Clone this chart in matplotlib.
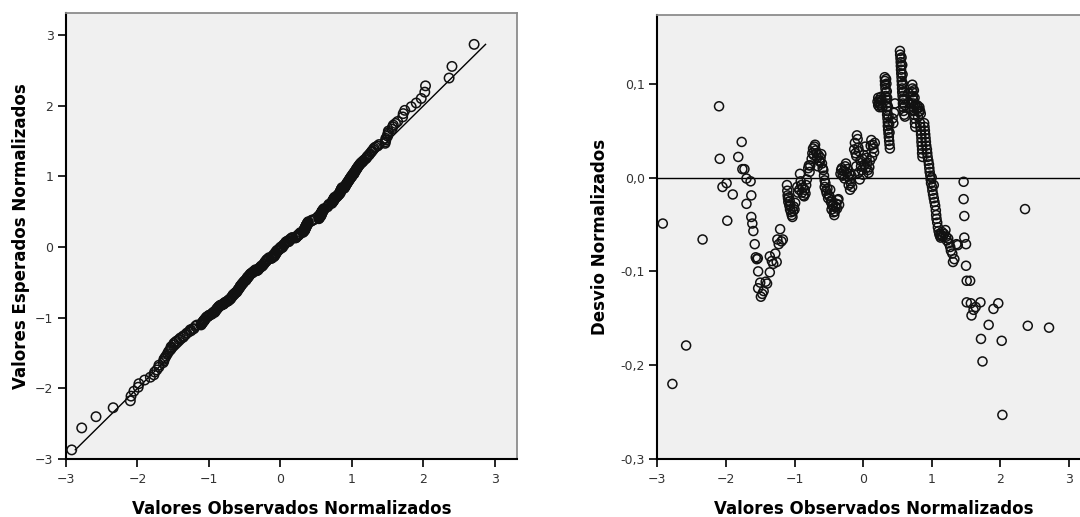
import numpy as np
import matplotlib
matplotlib.use("Agg")
import matplotlib.pyplot as plt

obs = [
    -2.92, -2.78, -2.58, -2.34, -2.10, -2.09, -2.05, -1.99, -1.98, -1.90,
    -1.82, -1.77, -1.76, -1.73, -1.70, -1.70, -1.64, -1.63, -1.63, -1.615,
    -1.60, -1.58, -1.565, -1.55, -1.535, -1.53, -1.53, -1.50, -1.49, -1.47,
    -1.45, -1.42, -1.40, -1.36, -1.36, -1.33, -1.31, -1.28, -1.26, -1.25,
    -1.23, -1.21, -1.19, -1.17,
    -1.11, -1.105, -1.10, -1.095, -1.09, -1.08, -1.075, -1.07, -1.065, -1.06,
    -1.05, -1.04, -1.03, -1.02, -1.01, -1.00, -0.99,
    -0.96, -0.95, -0.93, -0.92, -0.91, -0.90, -0.89, -0.88, -0.87, -0.86,
    -0.85, -0.84, -0.83, -0.82, -0.80, -0.79, -0.78, -0.77,
    -0.75, -0.74, -0.73, -0.72, -0.71, -0.70, -0.69, -0.68, -0.67, -0.66,
    -0.65, -0.64, -0.63, -0.62, -0.61, -0.60, -0.59,
    -0.58, -0.57, -0.56, -0.56, -0.55, -0.54, -0.53, -0.52, -0.51, -0.50,
    -0.49, -0.48, -0.47, -0.46, -0.46, -0.45, -0.44, -0.43, -0.42, -0.41,
    -0.40, -0.39, -0.38, -0.37, -0.36, -0.35,
    -0.33, -0.32, -0.31, -0.30, -0.29, -0.28, -0.27, -0.26, -0.25, -0.24,
    -0.23, -0.22, -0.21, -0.20, -0.19, -0.19, -0.18, -0.17, -0.16,
    -0.13, -0.12, -0.11, -0.10, -0.10, -0.09, -0.08, -0.07, -0.07, -0.06,
    -0.05, -0.04, -0.03, -0.02, -0.01, 0.00, 0.01, 0.02, 0.03, 0.04,
    0.05, 0.06, 0.07, 0.08, 0.09, 0.10, 0.11, 0.12, 0.13, 0.14,
    0.15, 0.16, 0.17,
    0.21, 0.22, 0.22, 0.23, 0.24, 0.24, 0.25, 0.26, 0.26, 0.27, 0.28,
    0.315, 0.318, 0.32, 0.325, 0.33, 0.33, 0.335, 0.34, 0.345, 0.35,
    0.35, 0.355, 0.36, 0.36, 0.365, 0.37, 0.375, 0.38, 0.385, 0.39,
    0.335, 0.34, 0.345, 0.35, 0.36, 0.37, 0.38, 0.385,
    0.43, 0.44, 0.45, 0.465,
    0.537, 0.54, 0.545, 0.548, 0.55, 0.553, 0.556, 0.56, 0.562, 0.565,
    0.568, 0.57, 0.575, 0.578, 0.58, 0.585, 0.59, 0.60, 0.61,
    0.56, 0.57, 0.575, 0.58, 0.59, 0.60, 0.61,
    0.66, 0.67, 0.68, 0.717, 0.72, 0.722, 0.725, 0.728, 0.73, 0.735,
    0.74, 0.745, 0.75, 0.755, 0.76, 0.74, 0.75, 0.76,
    0.78, 0.79, 0.80, 0.81, 0.82, 0.83, 0.84, 0.80,
    0.83, 0.835, 0.84, 0.845, 0.85, 0.85, 0.855, 0.86, 0.86, 0.865,
    0.89, 0.895, 0.90, 0.905, 0.91, 0.915, 0.92, 0.93, 0.935, 0.94,
    0.95, 0.96, 0.965, 0.97, 0.98, 0.985, 0.99, 1.00, 1.005, 1.01,
    1.02, 1.03, 1.03, 1.04, 1.05, 1.06, 1.065, 1.07, 1.08, 1.09,
    1.10, 1.11, 1.12, 1.13, 1.14, 1.15, 1.16, 1.18, 1.20, 1.21,
    1.22, 1.24, 1.25, 1.27, 1.28, 1.30, 1.31, 1.33, 1.36, 1.38,
    1.465, 1.465, 1.475, 1.475, 1.50, 1.50, 1.51, 1.56, 1.51, 1.57,
    1.58, 1.61, 1.64, 1.71, 1.718, 1.74, 1.83, 1.90, 1.97, 2.02,
    2.03, 2.36, 2.40, 2.71,
]
desvio = [
    -0.049, -0.220, -0.179, -0.066, 0.076, 0.020, -0.010, -0.006, -0.046, -0.018,
    0.022, 0.038, 0.009, 0.009, -0.001, -0.028, -0.004, -0.019, -0.042, -0.049,
    -0.057, -0.071, -0.085, -0.087, -0.086, -0.100, -0.118, -0.112, -0.127, -0.124,
    -0.121, -0.111, -0.113, -0.101, -0.084, -0.089, -0.092, -0.081, -0.090, -0.066,
    -0.071, -0.055, -0.068, -0.066,
    -0.008, -0.014, -0.019, -0.022, -0.026, -0.021, -0.030, -0.025, -0.034, -0.029,
    -0.037, -0.040, -0.042, -0.036, -0.031, -0.034, -0.027,
    -0.010, -0.016, -0.013, 0.004, -0.004, -0.008, -0.016, -0.011, -0.019, -0.020,
    -0.013, -0.017, -0.008, -0.002, 0.010, 0.013, 0.006, 0.013,
    0.020, 0.026, 0.031, 0.024, 0.033, 0.035, 0.029, 0.026, 0.021, 0.012,
    0.024, 0.018, 0.017, 0.021, 0.025, 0.015, 0.010,
    0.008, 0.002, -0.003, -0.010, -0.006, -0.014, -0.017, -0.012, -0.022, -0.019,
    -0.020, -0.013, -0.026, -0.024, -0.034, -0.030, -0.029, -0.037, -0.040, -0.036,
    -0.031, -0.028, -0.033, -0.024, -0.023, -0.029,
    0.004, 0.008, 0.010, 0.002, 0.003, 0.007, -0.001, 0.012, 0.015, 0.005,
    0.009, 0.001, -0.008, 0.004, -0.002, -0.013, -0.006, 0.002, -0.010,
    0.030, 0.037, 0.026, 0.023, 0.012, 0.045, 0.041, 0.032, 0.005, 0.028,
    -0.002, 0.018, 0.012, 0.008, 0.020, 0.003, 0.024, 0.014, 0.033, 0.010,
    0.021, 0.016, 0.008, 0.005, 0.011, 0.018, 0.034, 0.040, 0.022, 0.035,
    0.031, 0.027, 0.037,
    0.081, 0.085, 0.077, 0.079, 0.083, 0.075, 0.080, 0.086, 0.077, 0.082, 0.075,
    0.107, 0.103, 0.099, 0.095, 0.091, 0.087, 0.083, 0.079, 0.075, 0.071,
    0.067, 0.063, 0.059, 0.055, 0.051, 0.047, 0.043, 0.039, 0.035, 0.031,
    0.105, 0.100, 0.092, 0.085, 0.076, 0.066, 0.057, 0.048,
    0.063, 0.058, 0.069, 0.079,
    0.135, 0.131, 0.127, 0.123, 0.119, 0.115, 0.111, 0.107, 0.103, 0.099,
    0.095, 0.091, 0.087, 0.083, 0.079, 0.075, 0.071, 0.067, 0.065,
    0.128, 0.120, 0.110, 0.100, 0.092, 0.084, 0.077,
    0.090, 0.080, 0.073, 0.099, 0.095, 0.091, 0.087, 0.083, 0.079, 0.075,
    0.071, 0.067, 0.063, 0.058, 0.054, 0.093, 0.085, 0.077,
    0.073, 0.077, 0.074, 0.070, 0.075, 0.071, 0.068, 0.065,
    0.058, 0.054, 0.050, 0.046, 0.042, 0.038, 0.034, 0.030, 0.026, 0.022,
    0.058, 0.054, 0.050, 0.046, 0.042, 0.038, 0.034, 0.030, 0.026, 0.022,
    0.018, 0.014, 0.010, 0.006, 0.002, -0.002, -0.006, 0.000, -0.010, -0.014,
    -0.018, -0.008, -0.022, -0.026, -0.030, -0.035, -0.040, -0.044, -0.048, -0.053,
    -0.057, -0.060, -0.062, -0.064, -0.061, -0.058, -0.063, -0.060, -0.056, -0.063,
    -0.067, -0.065, -0.070, -0.074, -0.078, -0.081, -0.090, -0.087, -0.071, -0.072,
    -0.0045, -0.023, -0.041, -0.064, -0.071, -0.094, -0.110, -0.110, -0.133, -0.134,
    -0.147, -0.141, -0.138, -0.133, -0.172, -0.196, -0.157, -0.140, -0.134, -0.174,
    -0.253, -0.0336, -0.158, -0.160,
]

# expected normal value = observed - deviation
esperado = [o - d for o, d in zip(obs, desvio)]

ref_line = [-2.87, 2.87]

qq_ticks = [-3, -2, -1, 0, 1, 2, 3]
dev_yticks = [-0.3, -0.2, -0.1, 0.0, 0.1]
dev_yticklabels = ["-0,3", "-0,2", "-0,1", "0,0", "0,1"]

xlabel_txt = "Valores Observados Normalizados"
ylabel_left = "Valores Esperados Normalizados"
ylabel_right = "Desvio Normalizados"

# ---- figure ----
W, H = 1080, 517
fig = plt.figure(figsize=(W / 100, H / 100), dpi=100)
fig.patch.set_facecolor("white")

def px_axes(l, r, t, b):
    return [l / W, 1 - b / H, (r - l) / W, (b - t) / H]

ax1 = fig.add_axes(px_axes(66, 517, 13.3, 459))
ax2 = fig.add_axes(px_axes(657.3, 1090.2, 15, 459))

bg = "#F0F0F0"
for ax in (ax1, ax2):
    ax.set_facecolor(bg)
    for s in ("left", "bottom"):
        ax.spines[s].set_color("black")
        ax.spines[s].set_linewidth(1.5)
    for s in ("top", "right"):
        ax.spines[s].set_color("#8C8C8C")
        ax.spines[s].set_linewidth(1.3)
    ax.tick_params(direction="out", length=6, width=1.2, color="black",
                   labelsize=9, labelcolor="#333333")
    ax.tick_params(axis="x", pad=4)
    ax.tick_params(axis="y", pad=3)

mk = dict(marker="o", facecolors="none", edgecolors="#111111", linewidths=1.1)

# left: normal Q-Q
ax1.plot(ref_line, ref_line, color="black", linewidth=1.0, zorder=2)
ax1.scatter(obs, esperado, s=46, zorder=3, **mk)
ax1.set_xlim(-3, 3.31)
ax1.set_ylim(-3, 3.31)
ax1.set_xticks(qq_ticks)
ax1.set_yticks(qq_ticks)
ax1.set_xlabel(xlabel_txt, fontsize=12, fontweight="bold", va="center")
ax1.xaxis.set_label_coords(0.5, -(509 - 459) / 445.7)
ax1.set_ylabel(ylabel_left, fontsize=12, fontweight="bold", va="center")
ax1.yaxis.set_label_coords((20.7 - 66) / 451, 0.5)

# right: detrended Q-Q
ax2.axhline(0, color="black", linewidth=1.0, zorder=2)
ax2.scatter(obs, desvio, s=42, zorder=3, **mk)
ax2.set_xlim(-3, 3.31)
ax2.set_ylim(-0.3, 0.1733)
ax2.set_xticks(qq_ticks)
ax2.set_yticks(dev_yticks)
ax2.set_yticklabels(dev_yticklabels)
ax2.set_xlabel(xlabel_txt, fontsize=12, fontweight="bold", va="center")
ax2.xaxis.set_label_coords(0.5, -(509 - 459) / 444)
ax2.set_ylabel(ylabel_right, fontsize=12, fontweight="bold", va="center")
ax2.yaxis.set_label_coords((600.3 - 657.3) / 432.9, 0.5)

fig.savefig("out.png", dpi=100, facecolor="white")
